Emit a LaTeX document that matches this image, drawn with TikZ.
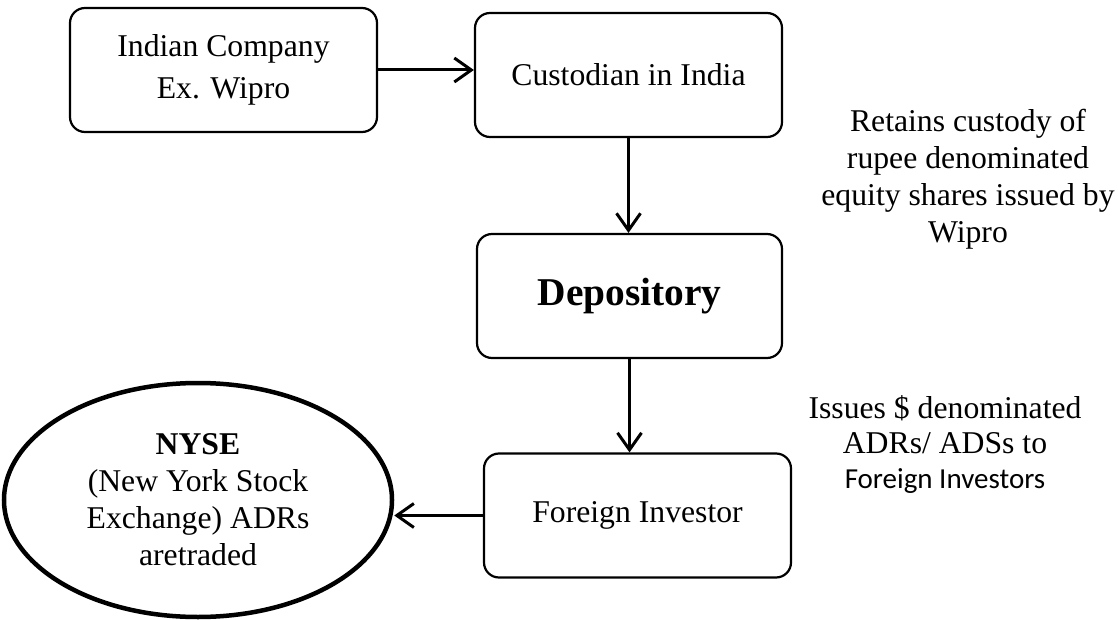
\documentclass[tikz,border=0pt]{standalone}
\usepackage{fontspec}
\setmainfont{Liberation Serif}
\newfontfamily\calibrifont{Carlito}
\usetikzlibrary{arrows.meta,shapes.geometric}
\begin{document}
\begin{tikzpicture}[x=1pt,y=-1pt,
  box/.style={draw, line width=2.2pt, rounded corners=15pt, minimum width=307pt, minimum height=124pt, inner sep=0pt, align=center, font=\fontsize{31.7}{42}\selectfont},
  conn/.style={line width=3pt, -{Straight Barb[length=17pt,width=24pt]}},
  plain/.style={inner sep=0pt, align=center, font=\fontsize{31.7}{37}\selectfont}]
\path[fill=white] (0,0) rectangle (1118,620);
\node[box] (ic) at (223.5,70) {Indian Company\\Ex. Wipro};
\node[box] (cu) at (628.5,75) {Custodian in India};
\node[box, minimum width=305pt] (dp) at (629.5,296) {\fontsize{39.4}{45}\selectfont\bfseries Depository};
\node[box] (fi) at (637.5,515.5) {Foreign Investor};
\node[draw, ellipse, line width=4.5pt, minimum width=388pt, minimum height=234pt, inner sep=0pt, align=center, font=\fontsize{31.7}{37}\selectfont] (ny) at (198,500) {\textbf{NYSE}\\(New York Stock\\Exchange) ADRs\\aretraded};
\node[plain] (rt) at (968,179) {Retains custody of\\rupee denominated\\equity shares issued by\\Wipro};
\node[plain, font=\fontsize{31.7}{35}\selectfont] (is) at (945,444.5) {Issues \$ denominated\\ADRs/ ADSs to\\{\calibrifont\fontsize{29}{35}\selectfont Foreign Investors}};
\draw[conn] (ic.east) -- (ic.east -| cu.west);
\draw[conn] (cu.south) -- (cu.south |- dp.north);
\draw[conn] (dp.south) -- (dp.south |- fi.north);
\draw[conn] (fi.west) -- (fi.west -| ny.east);
\end{tikzpicture}
\end{document}
